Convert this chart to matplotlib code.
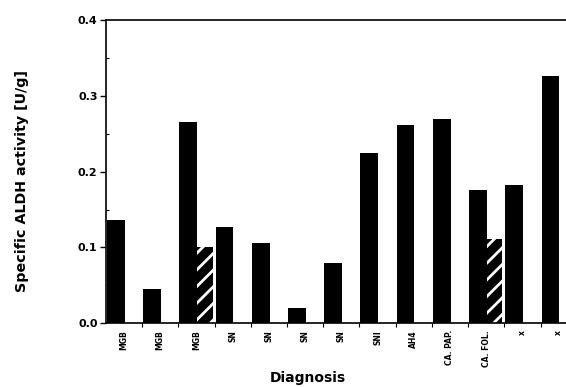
import matplotlib
matplotlib.use("Agg")
import matplotlib.pyplot as plt
import numpy as np

# data
diagnoses = ["MGB", "MGB", "MGB", "SN", "SN", "SN", "SN", "SNI", "AH4",
             "CA. PAP.", "CA. FOL.", "x", "x"]
activity = [0.136, 0.045, 0.265, 0.127, 0.106, 0.020, 0.080, 0.224,
            0.262, 0.270, 0.176, 0.182, 0.326]
# second (hatched) measurement, only for some samples
hatched_idx = [2, 10]
hatched_vals = [0.101, 0.111]

plt.rcParams["font.family"] = ["DejaVu Sans"]
plt.rcParams["font.weight"] = "bold"
plt.rcParams["hatch.linewidth"] = 2.0

fig = plt.figure(figsize=(5.66, 3.87), dpi=100)
ax = fig.add_axes([0.187, 0.165, 0.832, 0.783])

x = np.arange(len(diagnoses))
bar_w = 0.49
ax.bar(x + 0.03, activity, width=bar_w, align="edge", color="black", linewidth=0)

hx = np.array(hatched_idx) + 0.03 + bar_w
ax.bar(hx, hatched_vals, width=0.43, align="edge", color="black",
       edgecolor="white", hatch="//", linewidth=0)

ax.set_xlim(0, len(diagnoses))
ax.set_ylim(0, 0.4)

ax.set_yticks([0.0, 0.1, 0.2, 0.3, 0.4])
ax.set_yticklabels(["0.0", "0.1", "0.2", "0.3", "0.4"], fontsize=8, fontweight="bold")
ax.tick_params(axis="y", direction="out", length=4, width=1, pad=2)
ax.set_yticks(np.arange(0.05, 0.4, 0.1), minor=True)
ax.tick_params(axis="y", which="minor", direction="in", length=2, width=0.8)

ax.set_xticks(x + 0.5)
ax.set_xticklabels(diagnoses, rotation=90, fontsize=5.5, fontweight="bold")
ax.set_xticks(np.arange(1, len(diagnoses)), minor=True)
ax.tick_params(axis="x", which="major", length=0, pad=5)
ax.tick_params(axis="x", which="minor", direction="out", length=3, width=0.8)

for side in ["left", "bottom", "top"]:
    ax.spines[side].set_linewidth(1.2)
ax.spines["right"].set_visible(False)

fig.text(22 / 566, 1 - 181 / 387, "Specific ALDH activity [U/g]", rotation=90,
         ha="center", va="center", fontsize=10.3, fontweight="bold")
fig.text(308 / 566, 1 - 378 / 387, "Diagnosis", ha="center", va="center",
         fontsize=10, fontweight="bold")

fig.savefig("out.png", dpi=100)
